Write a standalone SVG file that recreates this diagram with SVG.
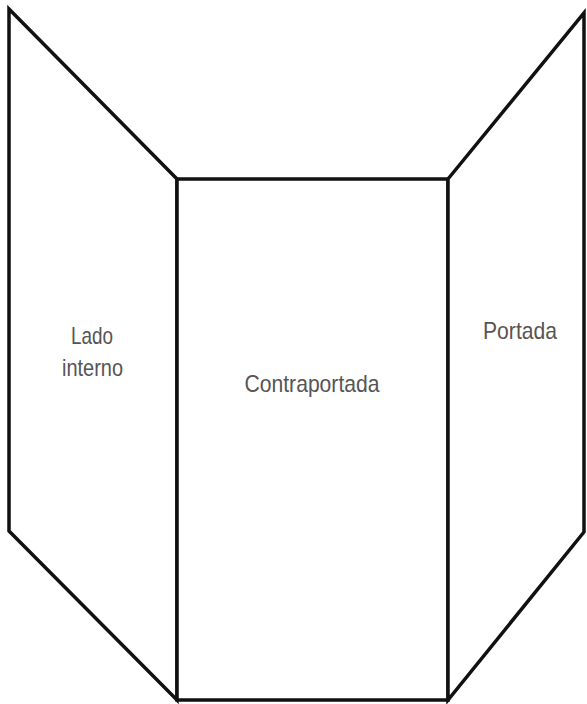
<svg xmlns="http://www.w3.org/2000/svg" width="587" height="704" viewBox="0 0 587 704">
<style>
.panel{fill:#fff;stroke:#111;stroke-width:3.5;stroke-linejoin:miter}
.lbl{font-family:"Liberation Sans",Arial,sans-serif;font-size:24px;fill:#555;text-anchor:middle}
</style>
<rect width="587" height="704" fill="#fff"/>
<g id="lado-interno">
<polygon class="panel" points="9,9 177,179 177,700 9,531"/>
<text class="lbl" x="92" y="344" textLength="42" lengthAdjust="spacingAndGlyphs">Lado</text>
<text class="lbl" x="92.5" y="376" textLength="61" lengthAdjust="spacingAndGlyphs">interno</text>
</g>
<g id="contraportada">
<rect class="panel" x="177" y="179" width="271" height="521"/>
<text class="lbl" x="312" y="392" textLength="135" lengthAdjust="spacingAndGlyphs">Contraportada</text>
</g>
<g id="portada">
<polygon class="panel" points="448,179 584,13 584,532 448,700"/>
<text class="lbl" x="520" y="339" textLength="74" lengthAdjust="spacingAndGlyphs">Portada</text>
</g>
<g id="connectors"/>
</svg>
